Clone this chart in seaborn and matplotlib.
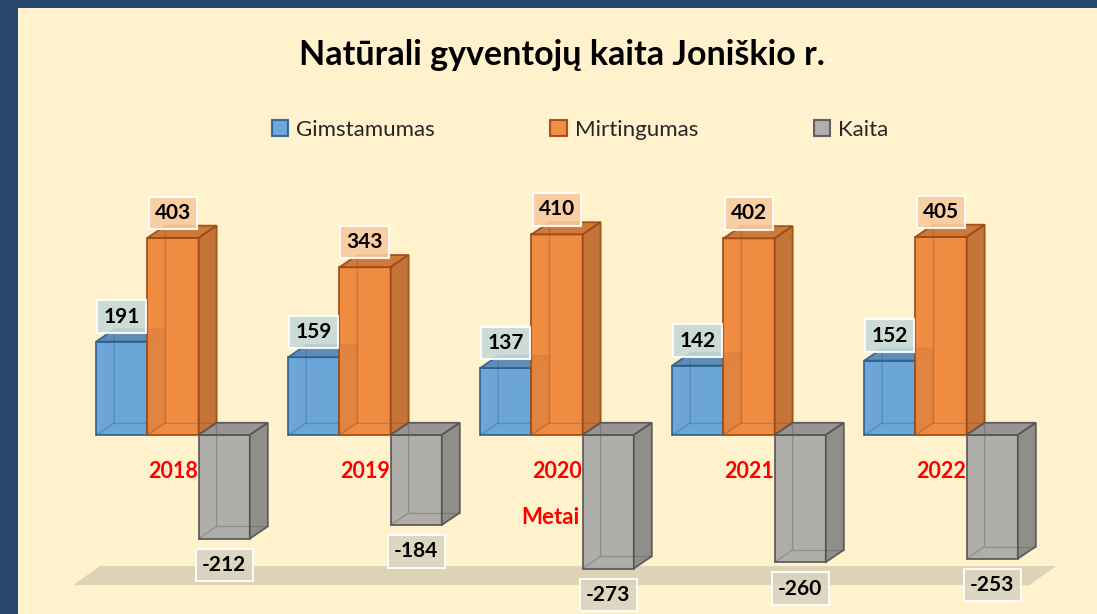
import numpy as np
import pandas as pd
import matplotlib
matplotlib.use('Agg')
import matplotlib.pyplot as plt
from matplotlib.patches import Polygon, Patch
import seaborn as sns

# data
years = ['2018', '2019', '2020', '2021', '2022']
series = ['Gimstamumas', 'Mirtingumas', 'Kaita']
gimstamumas = [191, 159, 137, 142, 152]
mirtingumas = [403, 343, 410, 402, 405]
kaita = [-212, -184, -273, -260, -253]

df = pd.DataFrame({
    'Metai': years * 3,
    'Rodiklis': [s for s in series for _ in years],
    'Reiksme': gimstamumas + mirtingumas + kaita,
})

front = {'Gimstamumas': '#5F9FDA', 'Mirtingumas': '#EE8436', 'Kaita': '#A8A8A8'}
edges = {'Gimstamumas': '#2E5F90', 'Mirtingumas': '#9C4A14', 'Kaita': '#555555'}
boxes = {'Gimstamumas': '#C7D9D6', 'Mirtingumas': '#F8CB9E', 'Kaita': '#DAD3C0'}
zorders = {'Gimstamumas': 3, 'Mirtingumas': 4, 'Kaita': 5}

# fake 3d depth
DX = 0.094
DY = 25


def shade(c, f):
    r, g, b = matplotlib.colors.to_rgb(c)
    return (r * f, g * f, b * f)


sns.set_theme(style='white')
plt.rcParams['font.family'] = ['Lato', 'DejaVu Sans']

fig = plt.figure(figsize=(10.97, 6.14), dpi=100)
fig.patch.set_facecolor('#27476C')
ax = fig.add_axes([18 / 1097, 0, 1079 / 1097, 606 / 614])
ax.set_facecolor('#FFF2CC')

sns.barplot(data=df, x='Metai', y='Reiksme', hue='Rodiklis', hue_order=series,
            palette=front, saturation=1, width=0.8, alpha=0.92, legend=False, ax=ax)

# floor plane under the bars
fl, fr = -0.52, len(years) - 0.54
ffront, fback = -307, -268
ax.add_patch(Polygon([(fl, ffront), (fl + 0.14, fback), (fr + 0.14, fback), (fr, ffront)],
                     closed=True, facecolor='#D6CCB0', edgecolor='none', alpha=0.8, zorder=1))

for name, cont in zip(series, ax.containers):
    col = front[name]
    ec = edges[name]
    z = zorders[name]
    for bar in cont:
        bar.set_edgecolor(ec)
        bar.set_linewidth(1.3)
        bar.set_zorder(z)
        x0, w = bar.get_x(), bar.get_width()
        y0, h = bar.get_y(), bar.get_height()
        lo, hi = min(y0, y0 + h), max(y0, y0 + h)
        top = [(x0, hi), (x0 + DX, hi + DY), (x0 + w + DX, hi + DY), (x0 + w, hi)]
        side = [(x0 + w, lo), (x0 + w + DX, lo + DY), (x0 + w + DX, hi + DY), (x0 + w, hi)]
        ax.add_patch(Polygon(top, closed=True, facecolor=shade(col, 0.84), edgecolor=ec,
                             lw=1.3, alpha=0.92, zorder=z))
        ax.add_patch(Polygon(side, closed=True, facecolor=shade(col, 0.8), edgecolor=ec,
                             lw=1.3, alpha=0.92, zorder=z))
        # hidden edges seen through the glass
        ax.plot([x0, x0 + DX, x0 + DX], [lo, lo + DY, hi + DY], color=ec, lw=1, alpha=0.35, zorder=z)
        ax.plot([x0 + DX, x0 + w + DX], [lo + DY, lo + DY], color=ec, lw=1, alpha=0.35, zorder=z)

        v = int(round(h))
        if v >= 0:
            xy, off = (x0 + w / 2, hi), 18
        else:
            xy, off = (x0 + w / 2, lo), -19
        ax.annotate(f'{v}', xy=xy, xytext=(0, off), textcoords='offset points',
                    ha='center', va='center', fontsize=15, fontweight='bold', color='black',
                    zorder=10,
                    bbox=dict(boxstyle='square,pad=0.3', facecolor=boxes[name],
                              edgecolor='white', lw=1.5, alpha=0.9))

ax.set_xlim(-0.807, 4.8125)
ax.set_ylim(-366, 873)

for s in ax.spines.values():
    s.set_visible(False)
ax.spines['bottom'].set_position(('data', 0))
ax.set_yticks([])
ax.set_ylabel('')
ax.tick_params(axis='x', length=0, pad=19, labelsize=15.5, labelcolor='red')
for lbl in ax.get_xticklabels():
    lbl.set_fontweight('bold')

ax.set_xlabel('Metai', color='red', fontsize=16, fontweight='bold')
ax.xaxis.set_label_coords(0.493, 0.16)
ax.xaxis.label.set_va('center')

title = fig.text(562 / 1097, 1 - 55 / 614, 'Natūrali gyventojų kaita Joniškio r.',
                 ha='center', va='center', fontsize=24.5, fontweight='bold', color='black')
ax.annotate('.', xy=(1, 0.15), xycoords=title, xytext=(2, 0), textcoords='offset points',
            ha='left', va='bottom', fontsize=16, fontweight='bold', color='white')

handles = [Patch(facecolor=front[s], edgecolor=edges[s], lw=1.5, alpha=0.9) for s in series]
fig.legend(handles, series, loc='center', bbox_to_anchor=(580 / 1097, 1 - 130 / 614),
           ncol=3, frameon=False, fontsize=16, columnspacing=5.2,
           handlelength=0.75, handleheight=0.75, handletextpad=0.35)

fig.savefig('out.png', dpi=100, facecolor=fig.get_facecolor())
